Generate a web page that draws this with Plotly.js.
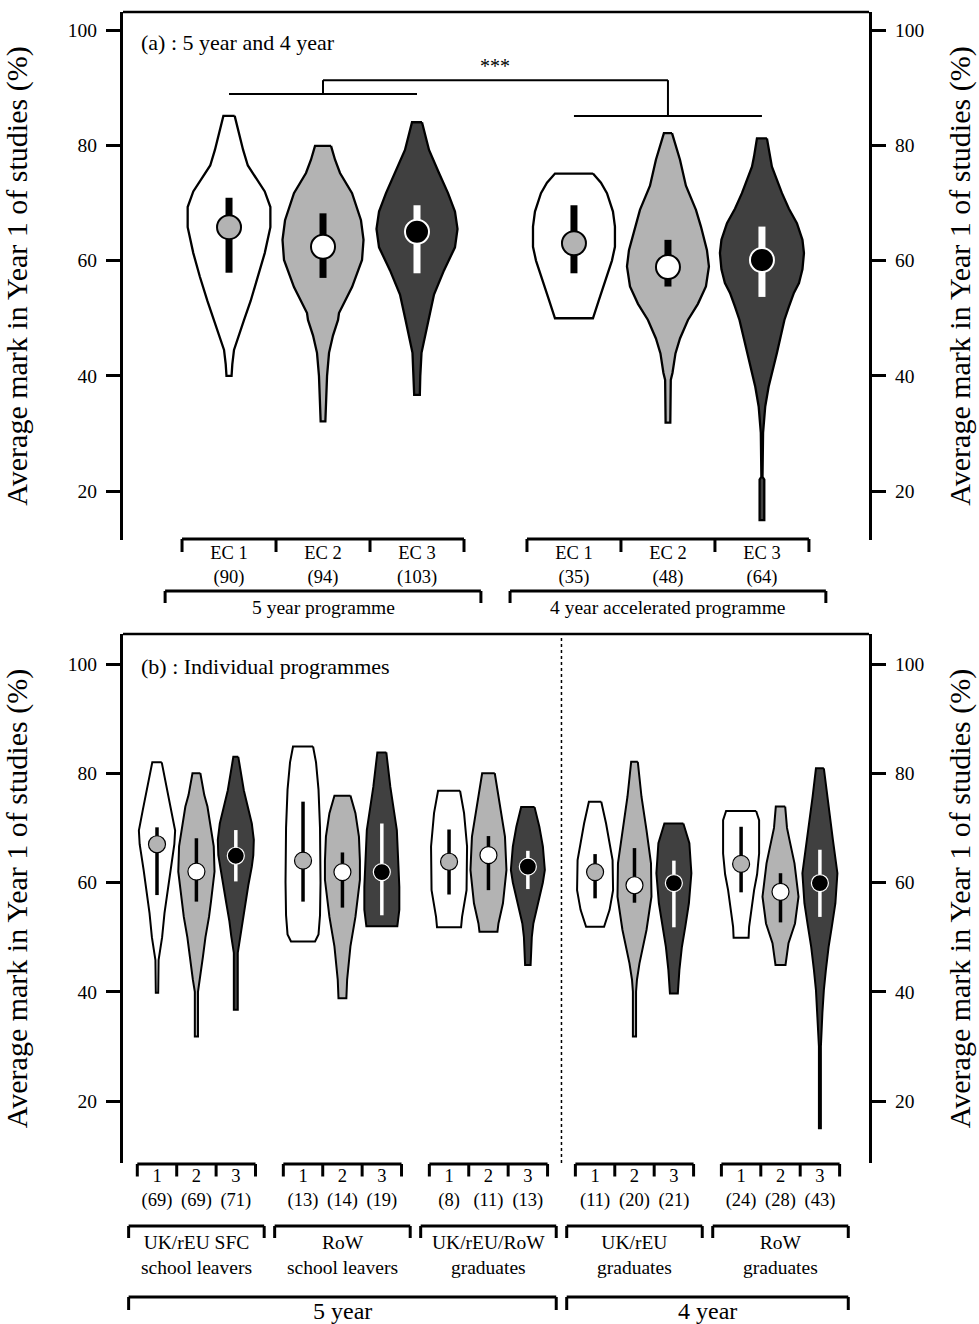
<!DOCTYPE html>
<html><head><meta charset="utf-8">
<script src="https://cdn.plot.ly/plotly-3.0.1.min.js"></script>
<style>body{margin:0;background:#fff}</style>
</head><body><div id="chart" style="width:979px;height:1324px"></div>
<script>
// ================= DATA =================
// ---- Panel (a): 5 year and 4 year ----
const aGroupNames = ['5 year programme', '4 year accelerated programme'];
const aCatNames = ['EC 1', 'EC 2', 'EC 3'];
const aCounts = [[90, 94, 103], [35, 48, 64]];
const aMedian = [[65.8, 62.4, 65.0], [63.0, 58.9, 60.1]];
const aBarLow = [[57.9, 57.0, 57.8], [57.8, 55.5, 53.7]];
const aBarHigh = [[70.9, 68.2, 69.6], [69.6, 63.6, 65.9]];
// violin outlines: marks (top -> bottom) and half-widths (fraction of category spacing)
const a5EC1Mark = [85.1, 79.2, 76.5, 74, 72, 69.3, 65.8, 61.3, 57.2, 53, 49.7, 46, 44.5, 42, 40];
const a5EC1Width = [.06, .15, .20, .30, .38, .44, .44, .38, .31, .23, .16, .085, .053, .035, .027];
const a5EC2Mark = [79.9, 77.5, 75.2, 71.7, 67, 63.6, 60.1, 55.4, 50.9, 49.7, 47, 44, 40, 36, 32.1];
const a5EC2Width = [.085, .128, .181, .309, .404, .431, .415, .309, .17, .16, .106, .064, .043, .03, .025];
const a5EC3Mark = [84, 79.2, 75.2, 71.7, 68.5, 65.5, 62.3, 58.3, 54.1, 49.7, 44, 40, 36.7];
const a5EC3Width = [.053, .128, .234, .33, .404, .431, .404, .287, .181, .122, .048, .035, .03];
const a4EC1Mark = [75.1, 73.5, 71.7, 68.5, 65.9, 62.4, 60, 57.8, 53.2, 50];
const a4EC1Width = [.202, .287, .351, .415, .436, .436, .404, .362, .266, .202];
const a4EC2Mark = [82.1, 77.5, 73, 70.5, 68.8, 65.9, 61.8, 59, 55.5, 52.5, 49.7, 46.5, 43.9, 40.5, 39.3, 31.9];
const a4EC2Width = [.043, .128, .191, .255, .298, .351, .415, .436, .404, .319, .213, .128, .08, .048, .03, .025];
const a4EC3Mark = [81.2, 78, 76.3, 71.7, 69, 66.5, 63.6, 61.3, 58.5, 56.1, 54.4, 52, 49.7, 44, 38.1, 34.7, 30.1, 22.5, 22, 15];
const a4EC3Width = [.053, .085, .106, .213, .287, .372, .431, .447, .431, .394, .34, .287, .239, .16, .071, .035, .012, .006, .025, .025];

// significance label between the two programmes
const aSigLabel = '***';

// ---- Panel (b): individual programmes ----
const bGroupNames = ['UK/rEU SFC<br>school leavers', 'RoW<br>school leavers', 'UK/rEU/RoW<br>graduates', 'UK/rEU<br>graduates', 'RoW<br>graduates'];
const bProgNames = ['5 year', '4 year'];
const bProgOfGroup = [0, 0, 0, 1, 1];
const bCatNames = ['1', '2', '3'];
const bCounts = [[69, 69, 71], [13, 14, 19], [8, 11, 13], [11, 20, 21], [24, 28, 43]];
const bMedian = [[67.0, 62.0, 64.9], [64.0, 61.9, 61.9], [63.8, 65.0, 62.9], [61.9, 59.5, 59.9], [63.4, 58.3, 59.9]];
const bBarLow = [[57.7, 56.5, 60.2], [56.5, 55.4, 54.0], [57.8, 58.6, 58.8], [57.1, 56.3, 51.8], [58.2, 52.7, 53.7]];
const bBarHigh = [[70.1, 68.1, 69.6], [74.8, 65.5, 70.8], [69.7, 68.5, 65.8], [65.2, 66.3, 64.0], [70.2, 61.7, 66.0]];
// violin outlines
const bSFC1Mark = [82, 78, 73.3, 69.5, 67, 62.3, 58, 54.4, 50, 45.8, 39.8];
const bSFC1Width = [.12, .23, .36, .46, .44, .34, .25, .19, .13, .04, .03];
const bSFC2Mark = [80, 76, 73.9, 70, 66.6, 62, 60.5, 56.5, 53.7, 50, 46.4, 42.2, 40, 31.8];
const bSFC2Width = [.10, .20, .28, .37, .44, .46, .44, .37, .32, .23, .165, .09, .04, .04];
const bSFC3Mark = [83, 80, 76.9, 70.8, 67.8, 65, 62.9, 59.5, 56.2, 53, 50.1, 47.1, 36.7];
const bSFC3Width = [.063, .127, .203, .406, .457, .444, .406, .317, .241, .165, .114, .05, .05];
const bRSL1Mark = [84.9, 82, 77, 70, 60, 54, 50.5, 49.2];
const bRSL1Width = [.254, .33, .393, .431, .444, .431, .393, .305];
const bRSL2Mark = [75.9, 72.7, 68.4, 64, 60.5, 57, 53.7, 48.3, 42.2, 38.8];
const bRSL2Width = [.203, .33, .419, .444, .444, .393, .33, .203, .119, .10];
const bRSL3Mark = [83.8, 77.5, 69.6, 59.2, 55, 52];
const bRSL3Width = [.114, .216, .381, .444, .444, .393];
const bG5_1Mark = [76.8, 72.7, 66.6, 58.6, 53.7, 51.8];
const bG5_1Width = [.279, .381, .457, .444, .33, .305];
const bG5_2Mark = [80, 73.9, 68.4, 62.3, 56.2, 52.5, 51];
const bG5_2Width = [.16, .292, .419, .457, .368, .254, .228];
const bG5_3Mark = [73.8, 70.2, 66.6, 62.3, 60, 57.4, 52.5, 50, 44.9];
const bG5_3Width = [.17, .292, .381, .431, .381, .292, .14, .10, .07];
const bUKG1Mark = [74.8, 70.8, 64.1, 58.6, 55, 51.9];
const bUKG1Width = [.157, .279, .444, .457, .368, .228];
const bUKG2Mark = [82.1, 75.7, 69.6, 63.5, 57.4, 51.3, 45.2, 42.2, 40, 31.8];
const bUKG2Width = [.084, .178, .305, .419, .431, .305, .127, .063, .04, .04];
const bUKG3Mark = [70.8, 67.2, 61.7, 56.2, 52, 48.2, 44, 39.7];
const bUKG3Width = [.241, .393, .444, .381, .292, .203, .14, .10];
const bRG1Mark = [73.1, 71.4, 65.3, 61.5, 58.6, 54, 51.9, 49.9];
const bRG1Width = [.381, .457, .457, .406, .33, .241, .203, .19];
const bRG2Mark = [73.9, 70, 67.8, 63.5, 57.4, 52.5, 48.9, 44.9];
const bRG2Width = [.119, .165, .228, .355, .457, .368, .203, .127];
const bRG3Mark = [80.9, 75.7, 71.5, 67.8, 61.7, 56.2, 52, 48.2, 44, 40.3, 36.1, 30, 15];
const bRG3Width = [.10, .185, .254, .33, .444, .393, .305, .221, .152, .10, .063, .025, .025];

const yTickVals = [20, 40, 60, 80, 100];
const yTitle = 'Average mark in Year 1 of studies (%)';

// ================= STYLE / LAYOUT =================
const FONT = 'Liberation Serif, Times New Roman, serif';
const violinFill = ['#ffffff', '#b3b3b3', '#404040'];
const dotFill = ['#b3b3b3', '#ffffff', '#000000'];
const dotLine = ['#000000', '#000000', '#ffffff'];
const barColor = ['#000000', '#000000', '#ffffff'];

const aGroupStep = 3.67, bGroupStep = 3.706;
const aPos = (g, i) => 1 + g * aGroupStep + i;
const bPos = (g, i) => 1 + g * bGroupStep + i;

const W = 979, H = 1324, MT = 12, MB = 161;
const PH = H - MT - MB;
const py = px => (H - MB - px) / PH; // pixel row -> paper y

const aViolins = [
  [[a5EC1Mark, a5EC1Width], [a5EC2Mark, a5EC2Width], [a5EC3Mark, a5EC3Width]],
  [[a4EC1Mark, a4EC1Width], [a4EC2Mark, a4EC2Width], [a4EC3Mark, a4EC3Width]]
];
const bViolins = [
  [[bSFC1Mark, bSFC1Width], [bSFC2Mark, bSFC2Width], [bSFC3Mark, bSFC3Width]],
  [[bRSL1Mark, bRSL1Width], [bRSL2Mark, bRSL2Width], [bRSL3Mark, bRSL3Width]],
  [[bG5_1Mark, bG5_1Width], [bG5_2Mark, bG5_2Width], [bG5_3Mark, bG5_3Width]],
  [[bUKG1Mark, bUKG1Width], [bUKG2Mark, bUKG2Width], [bUKG3Mark, bUKG3Width]],
  [[bRG1Mark, bRG1Width], [bRG2Mark, bRG2Width], [bRG3Mark, bRG3Width]]
];

function violinTrace(c, ys, ws, fill, xa, ya, lw) {
  const xs = [], yy = [];
  for (let k = 0; k < ys.length; k++) { xs.push(c + ws[k]); yy.push(ys[k]); }
  for (let k = ys.length - 1; k >= 0; k--) { xs.push(c - ws[k]); yy.push(ys[k]); }
  xs.push(xs[0]); yy.push(yy[0]);
  return { type: 'scatter', mode: 'lines', x: xs, y: yy, xaxis: xa, yaxis: ya, fill: 'toself',
    fillcolor: fill, line: { color: '#000', width: lw }, hoverinfo: 'skip', showlegend: false };
}

const traces = [];
const dots = [];
function addPanel(violins, pos, med, lo, hi, xa, ya, yDot, lw, barW, dotSize, dotLW) {
  violins.forEach((grp, g) => grp.forEach((vw, i) => {
    const c = pos(g, i);
    traces.push(violinTrace(c, vw[0], vw[1], violinFill[i], xa, ya, lw));
    traces.push({ type: 'scatter', mode: 'lines', x: [c, c], y: [lo[g][i], hi[g][i]], xaxis: xa, yaxis: ya,
      line: { color: barColor[i], width: barW }, hoverinfo: 'skip', showlegend: false });
    dots.push({ type: 'scatter', mode: 'markers', x: [c], y: [med[g][i]], xaxis: xa, yaxis: yDot,
      marker: { size: dotSize, color: dotFill[i], line: { color: dotLine[i], width: dotLW } },
      hoverinfo: 'skip', showlegend: false });
  }));
}
addPanel(aViolins, aPos, aMedian, aBarLow, aBarHigh, 'x', 'y', 'y3', 2.3, 7, 24, 2);
addPanel(bViolins, bPos, bMedian, bBarLow, bBarHigh, 'x2', 'y2', 'y4', 2, 3.5, 17, 1.2);

// ---- axes ----
const aXRange = [-0.128, 7.809];
const bXRange = [0.137, 19.07];
const aPxPerUnit = 5.765, bPxPerUnit = 5.4625;
const aYR = [100 - (540 - 30) / aPxPerUnit, 100 - (12 - 30) / aPxPerUnit];
const bYR = [100 - (1163 - 664) / bPxPerUnit, 100 - (634 - 664) / bPxPerUnit];

const aTickVals = [], aTickText = [];
aCounts.forEach((row, g) => row.forEach((n, i) => { aTickVals.push(aPos(g, i)); aTickText.push(aCatNames[i] + '<br>(' + n + ')'); }));
const bTickVals = [], bTickText = [];
bCounts.forEach((row, g) => row.forEach((n, i) => { bTickVals.push(bPos(g, i)); bTickText.push(bCatNames[i] + '<br>(' + n + ')'); }));

const xCommon = { showgrid: false, zeroline: false, showline: false, ticks: '', fixedrange: true,
  tickfont: { family: FONT, size: 18.5, color: '#000' }, ticklabelstandoff: -1 };
const yCommon = { tickvals: yTickVals, ticks: 'outside', ticklen: 14, tickwidth: 3, tickcolor: '#000',
  showline: true, linewidth: 3, linecolor: '#000', showgrid: false, zeroline: false, fixedrange: true,
  tickfont: { family: FONT, size: 19.5, color: '#000' }, ticklabelstandoff: 5 };
const yTitleObj = (so) => ({ text: yTitle, font: { family: FONT, size: 30, color: '#000' }, standoff: so });

const layout = {
  width: W, height: H, margin: { l: 123, r: 110, t: MT, b: MB },
  paper_bgcolor: '#fff', plot_bgcolor: 'rgba(0,0,0,0)', showlegend: false,
  xaxis: Object.assign({}, xCommon, { domain: [0, 1], anchor: 'y', range: aXRange, tickvals: aTickVals, ticktext: aTickText }),
  xaxis2: Object.assign({}, xCommon, { domain: [0, 1], anchor: 'y2', range: bXRange, tickvals: bTickVals, ticktext: bTickText }),
  yaxis: Object.assign({}, yCommon, { domain: [py(540), 1], anchor: 'x', range: aYR, title: yTitleObj(34) }),
  yaxis2: Object.assign({}, yCommon, { domain: [0, py(634)], anchor: 'x2', range: bYR, title: yTitleObj(34) }),
  yaxis3: Object.assign({}, yCommon, { overlaying: 'y', side: 'right', anchor: 'x', range: aYR, title: yTitleObj(26) }),
  yaxis4: Object.assign({}, yCommon, { overlaying: 'y2', side: 'right', anchor: 'x2', range: bYR, title: yTitleObj(26) }),
  shapes: [], annotations: []
};

const LW = 3;
function line(xref, x0, y0, x1, y1, yref, w, dash) {
  layout.shapes.push({ type: 'line', xref: xref, yref: yref || 'paper', x0: x0, y0: y0, x1: x1, y1: y1,
    line: { color: '#000', width: w || LW, dash: dash || 'solid' } });
}
function ann(xref, x, y, text, size, xanchor, yref) {
  layout.annotations.push({ xref: xref, yref: yref || 'paper', x: x, y: y, text: text, showarrow: false,
    xanchor: xanchor || 'center', yanchor: 'middle', font: { family: FONT, size: size, color: '#000' } });
}

// top frames
line('paper', 0, 1, 1, 1, 'y domain', 2.5);
line('paper', 0, 1, 1, 1, 'y2 domain', 2.5);

// panel (a) brackets
aGroupNames.forEach((name, g) => {
  const l = aPos(g, 0) - 0.5, r = aPos(g, 2) + 0.5;
  line('x', l, py(539), r, py(539));
  [l, aPos(g, 0) + 0.5, aPos(g, 1) + 0.5, r].forEach(x => line('x', x, py(539), x, py(552)));
  const L = aPos(g, 0) - 0.68, R = aPos(g, 2) + 0.68;
  line('x', L, py(591), R, py(591));
  line('x', L, py(591), L, py(603));
  line('x', R, py(591), R, py(603));
  ann('x', aPos(g, 1), py(607), name, 19.5);
});

// significance bracket (panel a)
const sLeft = 88.9, sTop = 91.3, sRight = 85.1;
line('x', aPos(0, 0), sLeft, aPos(0, 2), sLeft, 'y', 2);
line('x', aPos(0, 1), sLeft, aPos(0, 1), sTop, 'y', 2);
line('x', aPos(0, 1), sTop, aPos(1, 1), sTop, 'y', 2);
line('x', aPos(1, 1), sTop, aPos(1, 1), sRight, 'y', 2);
line('x', aPos(1, 0), sRight, aPos(1, 2), sRight, 'y', 2);
ann('x', (aPos(0, 2) + aPos(1, 0)) / 2, py(66), aSigLabel, 20);

ann('paper', 16 / 746, py(43), '(a) : 5 year and 4 year', 22, 'left');
ann('paper', 16 / 746, py(667), '(b) : Individual programmes', 22, 'left');

// panel (b) brackets
bGroupNames.forEach((name, g) => {
  const l = bPos(g, 0) - 0.5, r = bPos(g, 2) + 0.5;
  line('x2', l, py(1164), r, py(1164));
  [l, bPos(g, 0) + 0.5, bPos(g, 1) + 0.5, r].forEach(x => line('x2', x, py(1164), x, py(1176.5)));
  const L = bPos(g, 1) - 1.72, R = bPos(g, 1) + 1.72;
  line('x2', L, py(1226), R, py(1226));
  line('x2', L, py(1226), L, py(1238));
  line('x2', R, py(1226), R, py(1238));
  ann('x2', bPos(g, 1), py(1255), name, 19.5);
});
bProgNames.forEach((name, p) => {
  const gs = bProgOfGroup.map((v, g) => v === p ? g : -1).filter(g => g >= 0);
  const L = bPos(gs[0], 1) - 1.72, R = bPos(gs[gs.length - 1], 1) + 1.72;
  line('x2', L, py(1297), R, py(1297));
  line('x2', L, py(1297), L, py(1310));
  line('x2', R, py(1297), R, py(1310));
  ann('x2', (L + R) / 2, py(1311), name, 24);
});
// dotted divider between 5 year and 4 year
const divX = (bPos(2, 2) + bPos(3, 0)) / 2;
line('x2', divX, 0, divX, 1, 'y2 domain', 1.5, 'dot');

Plotly.newPlot('chart', traces.concat(dots), layout, { displayModeBar: false, staticPlot: true });
</script>
</body></html>
